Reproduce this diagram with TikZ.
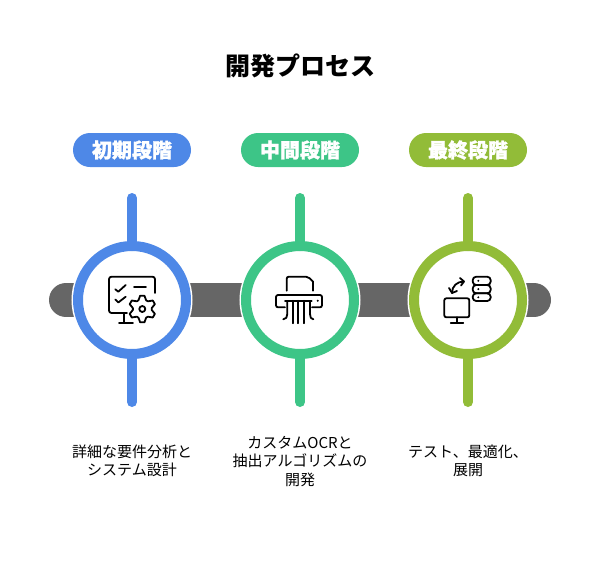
\documentclass[tikz,border=0pt]{standalone}
\usepackage{fontspec}
\setmainfont{Noto Sans CJK JP}
\usetikzlibrary{backgrounds,arrows.meta}

\definecolor{initialblue}{HTML}{4E88E7}
\definecolor{middlegreen}{HTML}{3DC587}
\definecolor{finalolive}{HTML}{92BC38}
\definecolor{bandgrey}{HTML}{666666}

\tikzset{
  stagering/.style = {circle, draw = #1, fill = white, line width = 10pt, minimum size = 108pt, inner sep = 0pt, outer sep = 0pt, preaction = {draw = white, line width = 13pt}},
  stagepill/.style = {rectangle, rounded corners = 17pt, fill = #1, minimum width = 118pt, minimum height = 34pt, inner sep = 0pt, text = white, font = \fontsize{20}{24}\selectfont\bfseries\addfontfeature{FakeBold = 1.2}},
  stagebar/.style = {draw = #1, line width = 10pt, line cap = round},
  stagetext/.style = {align = center, text = black, inner sep = 0pt, font = \fontsize{15}{18.5}\selectfont},
  iconline/.style = {draw = black, line width = 1.8pt, line cap = round, line join = round},
  bandline/.style = {draw = bandgrey, line width = 34pt, line cap = round}
}

\begin{document}
\begin{tikzpicture}[x = 1pt, y = -1pt]

\useasboundingbox (0, 0) rectangle (600, 576);

%%% Title
\node (title) [inner sep = 0pt, font = \fontsize{25}{28}\selectfont\bfseries] at (300, 66) {開発プロセス};

%%% Stages
\node (initial) [stagering = initialblue] at (132, 300) {};
\node (middle) [stagering = middlegreen] at (300, 300) {};
\node (final) [stagering = finalolive] at (468, 300) {};

\node (initial pill) [stagepill = initialblue] at (132, 150) {初期段階};
\node (middle pill) [stagepill = middlegreen] at (300, 150) {中間段階};
\node (final pill) [stagepill = finalolive] at (468, 150) {最終段階};

\node (initial text) [stagetext] at (132, 461) {詳細な要件分析と\\システム設計};
\node (middle text) [stagetext] at (300, 461.5) {カスタムOCRと\\抽出アルゴリズムの\\開発};
\node (final text) [stagetext] at (468, 461) {テスト、最適化、\\展開};

%%% Band behind the rings
\coordinate (band left) at (66, 300);
\coordinate (band right) at (534, 300);

\begin{scope}[on background layer]
\draw[bandline] (band left) -- (initial.center) -- (middle.center) -- (final.center) -- (band right);
\end{scope}

%%% Bars above and below the rings
\foreach \stage/\barcolor/\barx in {initial/initialblue/132, middle/middlegreen/300, final/finalolive/468} {
  \coordinate (\stage\space top) at (\barx, 198);
  \coordinate (\stage\space bottom) at (\barx, 402);
  \draw[stagebar = \barcolor] (\stage\space top) -- (\stage.north);
  \draw[stagebar = \barcolor] (\stage\space bottom) -- (\stage.south);
}

%%% Monitor with checklist and gear
\draw[iconline, rounded corners = 2.5pt] (127, 313) -- (109, 313) -- (109, 276.7) -- (155, 276.7) -- (155, 293);
\draw[iconline] (115.3, 289.3) -- (118.3, 291.7) -- (125.7, 285);
\draw[iconline] (115.3, 299.5) -- (118.3, 302.5) -- (125.7, 296.7);
\draw[iconline] (134, 287.3) -- (146, 287.3);
\draw[iconline] (124, 313) -- (124, 323);
\draw[iconline] (119, 323) -- (133, 323);

\begin{scope}[shift = {(142.3, 309)}]
\draw[iconline] (0, 0) circle (3pt);
\draw[iconline] (81:13.5pt) \foreach \toothangle in {90, 150, 210, 270, 330, 30} {
  -- (\toothangle - 9:13.5pt) -- (\toothangle + 9:13.5pt) -- (\toothangle + 24:9.5pt) -- (\toothangle + 36:9.5pt)
} -- cycle;
\end{scope}

%%% Shredder
\draw[iconline, rounded corners = 2pt] (286.7, 290.7) -- (286.7, 276.7) -- (308, 276.7) -- (313.3, 282);
\draw[iconline] (313.3, 282) -- (313.3, 290.7);
\draw[iconline, rounded corners = 2pt] (285, 307.3) -- (276, 307.3) -- (276, 295) -- (322, 295) -- (322, 307.3) -- (312, 307.3);
\draw[iconline] (285, 300.7) -- (311.7, 300.7);
\foreach \stripx in {292.7, 298.3, 304} {
  \draw[iconline] (\stripx, 300.7) -- (\stripx, 323.3);
}
\draw[iconline] (287.3, 301.7) -- (287.3, 314) .. controls (287.3, 317) and (286, 319.3) .. (283.3, 319.3);
\draw[iconline] (310, 301.7) -- (310, 314) .. controls (310, 317) and (311, 319.3) .. (313.3, 319.3);
\fill (317.7, 300.7) circle (1.1pt);

%%% Monitor with database
\draw[iconline, rounded corners = 2pt] (444.3, 298.3) rectangle (469.3, 317.3);
\draw[iconline] (456.7, 317.3) -- (456.7, 322.7);
\draw[iconline] (450.7, 322.7) -- (463.3, 322.7);
\foreach \dbtop/\dbbottom/\dbdot in {276.7/285/280.8, 285/293.3/289.1, 293.3/301/297.3} {
  \draw[iconline, rounded corners = 3.5pt] (472.7, \dbtop) rectangle (490.7, \dbbottom);
  \fill (478.3, \dbdot) circle (1.1pt);
}
\draw[iconline] (449, 288) -- (452, 293) -- (457, 291);
\draw[iconline] (452, 293) .. controls (452, 286) and (457, 281.5) .. (464, 281.5);
\draw[iconline] (460, 278) -- (464, 281.5) -- (461, 285.5);

\end{tikzpicture}
\end{document}
